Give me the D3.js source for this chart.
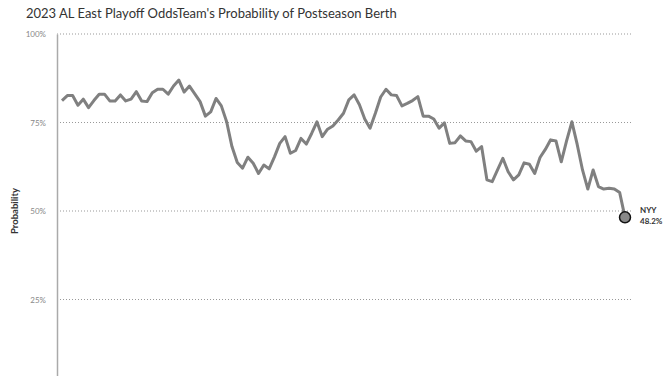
<!DOCTYPE html>
<html>
<head>
<meta charset="utf-8">
<script src="https://cdn.jsdelivr.net/npm/d3@7"></script>
<style>
  body { margin: 0; background: #fff; font-family: Lato, "Open Sans", sans-serif; }
  svg { display: block; }
</style>
</head>
<body>
<div id="chart"></div>
<script>
//* data (NYY playoff probability, %)
var team = "NYY"
var yTicks = [0.25, 0.5, 0.75, 1]
var probs = [81.2, 82.6, 82.6, 79.9, 81.6, 79.2, 81.2, 83.0, 83.0, 81.1,
             81.1, 82.8, 81.1, 81.6, 83.7, 81.1, 80.9, 83.4, 84.4, 84.4,
             83.0, 85.3, 87.0, 83.6, 85.3, 83.1, 80.9, 76.8, 78.0, 81.8,
             79.7, 75.2, 68.2, 63.7, 62.1, 65.2, 63.5, 60.6, 63.0, 61.9,
             65.3, 69.1, 71.0, 66.3, 67.1, 70.5, 68.9, 71.9, 75.2, 71.0,
             73.1, 74.0, 75.7, 77.6, 81.4, 82.8, 80.0, 76.0, 73.4, 77.6, 82.2,
             84.4, 82.8, 82.6, 79.7, 80.4, 81.2, 82.3, 76.8, 76.8, 76.0,
             73.4, 74.9, 69.1, 69.3, 71.2, 69.8, 69.6, 66.9, 68.2, 58.8,
             58.3, 61.6, 64.9, 61.1, 58.8, 60.2, 63.6, 63.2, 60.6, 65.1,
             67.4, 70.1, 69.8, 63.9, 69.8, 75.2, 68.8, 61.6, 56.2, 61.6,
             56.9, 56.2, 56.4, 56.2, 55.2, 48.2]
var days = d3.range(probs.length)

var W = 668, H = 376
var svg = d3.select("#chart").append("svg").attr("width", W).attr("height", H)

var x = d3.scaleLinear().domain([0, days.length - 1]).range([62, 625])
var y = d3.scaleLinear().domain([0, 1]).range([388, 34])

//? title
svg.append("text").attr("x", 26).attr("y", 18)
    .text("2023 AL East Playoff OddsTeam's Probability of Postseason Berth")
    .style("font-size", "13px").style("fill", "#333")

//? grid lines (dotted)
svg.append("g").selectAll("line").data(yTicks).join("line")
    .attr("x1", 57).attr("x2", 633)
    .attr("y1", d => y(d)).attr("y2", d => y(d))
    .attr("stroke", "#999").attr("stroke-width", 1)
    .attr("stroke-dasharray", "1,2")

//? y axis
var yAxis = d3.axisLeft(y).tickValues(yTicks).tickFormat(d3.format(".0%")).tickSize(0).tickPadding(11)
var gy = svg.append("g").attr("transform", "translate(57,0)").call(yAxis)
gy.select(".domain").attr("stroke", "#aaa").attr("stroke-width", 1.5)
gy.selectAll("text").style("font-size", "8px").style("fill", "#888").style("font-family", "Lato, sans-serif")

svg.append("text")
    .attr("transform", "translate(18," + y(0.5) + ") rotate(-90)")
    .attr("text-anchor", "middle")
    .text("Probability")
    .style("font-size", "9.5px").style("font-weight", "bold").style("fill", "#333")

//? line
var line = d3.line().x((d, i) => x(days[i])).y(d => y(d / 100))
svg.append("path").datum(probs)
    .attr("d", line)
    .attr("fill", "none").attr("stroke", "#808080").attr("stroke-width", 3)
    .attr("stroke-linejoin", "round")

//? end point + label
var last = probs.length - 1
svg.append("circle")
    .attr("cx", x(days[last])).attr("cy", y(probs[last] / 100)).attr("r", 5.5)
    .attr("fill", "#888").attr("stroke", "#111").attr("stroke-width", 1.5)

var lab = svg.append("text").attr("x", x(days[last]) + 15).attr("y", y(probs[last] / 100) - 4)
    .style("font-size", "8px").style("font-weight", "bold").style("fill", "#333")
lab.append("tspan").text(team)
lab.append("tspan").attr("x", x(days[last]) + 15).attr("dy", 11).text(d3.format(".1f")(probs[last]) + "%")
</script>
</body>
</html>
